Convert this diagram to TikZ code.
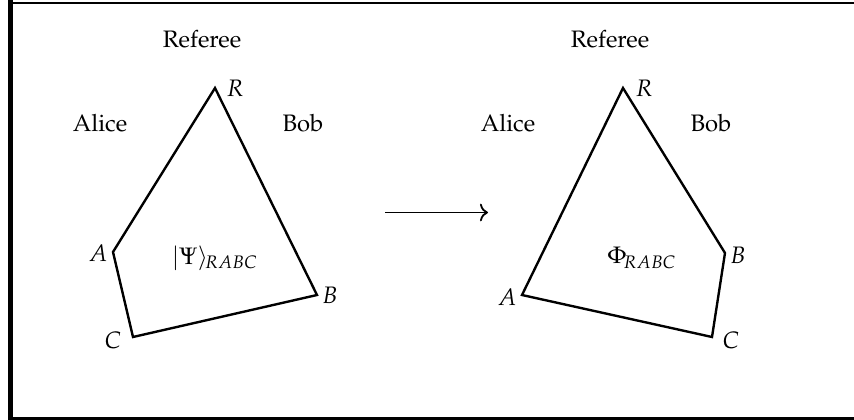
\documentclass[tikz,border=0pt]{standalone}
\usepackage[T1]{fontenc}
\usepackage{mathpazo}
\usetikzlibrary{arrows.meta}
\begin{document}
\begin{tikzpicture}[x=0.42pt,y=-0.42pt,
  poly/.style={line width=1pt,line join=miter},
  lbl/.style={inner sep=0pt},
  arr/.style={line width=0.75pt,-{To[length=3.4pt,width=7.4pt]}}]
\useasboundingbox (0,0) rectangle (854,420);
\begin{scope}
\clip (0,0) rectangle (854,420);
\draw[line width=1.9pt] (10.7,0) -- (10.7,420);
\draw[line width=0.9pt] (10,3) -- (854,3);
\draw[line width=1.1pt] (10,418.5) -- (854,418.5);
\end{scope}
% left diagram
\coordinate (R1) at (215,88);
\coordinate (A1) at (113,252);
\coordinate (C1) at (133,337);
\coordinate (B1) at (317,295);
\draw[poly] (R1) -- (B1) -- (C1) -- (A1) -- cycle;
\node[lbl] (ref1) at (202,39) {Referee};
\node[lbl] (alice1) at (100,123) {Alice};
\node[lbl] (bob1) at (303,123) {Bob};
\node[lbl] (lR1) at (235,88) {$R$};
\node[lbl] (lA1) at (98,253) {$A$};
\node[lbl] (lC1) at (113,340) {$C$};
\node[lbl] (lB1) at (330,295) {$B$};
\node[lbl] (psi) at (215,258) {$|\Psi\rangle_{\!RABC}$};
% arrow
\coordinate (arrL) at (385,212.5);
\coordinate (arrR) at (488,212.5);
\draw[arr] (arrL) -- (arrR);
% right diagram
\coordinate (R2) at (623,88);
\coordinate (B2) at (725,253);
\coordinate (C2) at (712,337);
\coordinate (A2) at (522,295);
\draw[poly] (R2) -- (B2) -- (C2) -- (A2) -- cycle;
\node[lbl] (ref2) at (610,39) {Referee};
\node[lbl] (alice2) at (508,123) {Alice};
\node[lbl] (bob2) at (711,123) {Bob};
\node[lbl] (lR2) at (644,88) {$R$};
\node[lbl] (lB2) at (738,255) {$B$};
\node[lbl] (lC2) at (731,340) {$C$};
\node[lbl] (lA2) at (507,297) {$A$};
\node[lbl] (phi) at (642,258) {$\Phi_{\!RABC}$};
\end{tikzpicture}
\end{document}
